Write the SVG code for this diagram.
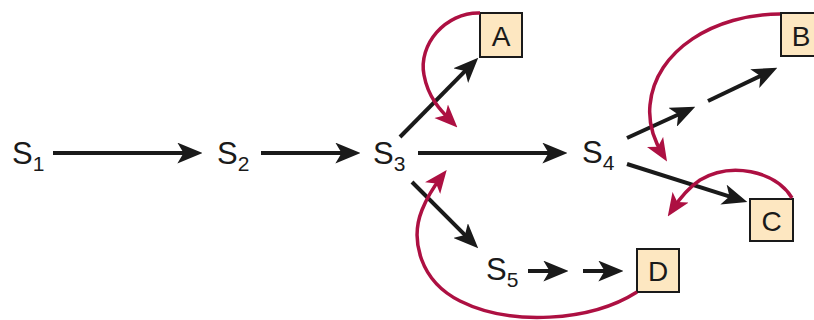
<svg xmlns="http://www.w3.org/2000/svg" width="814" height="320" viewBox="0 0 814 320">
<style>
.lbl{font-family:"Liberation Sans",Arial,sans-serif;font-size:31px;fill:#1a1a1a}
.sub{font-size:21px}
.box{fill:#fde7c1;stroke:#1a1a1a;stroke-width:2}
.bl{font-family:"Liberation Sans",Arial,sans-serif;font-size:28px;fill:#1a1a1a;text-anchor:middle}
.blk{stroke:#1a1a1a;stroke-width:4;fill:none;marker-end:url(#ab)}
.red{stroke:#ad1042;stroke-width:3.5;fill:none;marker-end:url(#ar)}
</style>
<defs>
<marker id="ab" viewBox="0 0 24 20" refX="16" refY="10" markerWidth="25" markerHeight="21" markerUnits="userSpaceOnUse" orient="auto">
<path d="M0,0 L24,10 L0,20 L6,10 z" fill="#1a1a1a"/>
</marker>
<marker id="ar" viewBox="0 0 24 20" refX="16" refY="10" markerWidth="23" markerHeight="20" markerUnits="userSpaceOnUse" orient="auto">
<path d="M0,0 L24,10 L0,20 L6,10 z" fill="#ad1042"/>
</marker>
</defs>
<g id="S1"><text class="lbl" x="12" y="164">S<tspan class="sub" dy="7">1</tspan></text></g>
<g id="S2"><text class="lbl" x="217" y="164">S<tspan class="sub" dy="7">2</tspan></text></g>
<g id="S3"><text class="lbl" x="373" y="164">S<tspan class="sub" dy="7">3</tspan></text></g>
<g id="S4"><text class="lbl" x="582" y="163">S<tspan class="sub" dy="7">4</tspan></text></g>
<g id="S5"><text class="lbl" x="486" y="280">S<tspan class="sub" dy="7">5</tspan></text></g>
<g id="A"><rect class="box" x="480" y="13" width="42" height="44"/><text class="bl" x="501" y="46">A</text></g>
<g id="B"><rect class="box" x="781" y="13" width="42" height="43"/><text class="bl" x="801" y="46">B</text></g>
<g id="C"><rect class="box" x="750" y="199" width="43" height="42"/><text class="bl" x="771.5" y="231">C</text></g>
<g id="D"><rect class="box" x="637" y="249" width="42" height="43"/><text class="bl" x="658" y="281">D</text></g>
<g id="connectors">
<line class="blk" x1="53" y1="153" x2="194" y2="153"/>
<line class="blk" x1="261" y1="153" x2="352" y2="153"/>
<line class="blk" x1="418" y1="153" x2="559" y2="153"/>
<line class="blk" x1="400" y1="137" x2="472.4" y2="63.7"/>
<line class="blk" x1="412" y1="182" x2="472.3" y2="242.3"/>
<line class="blk" x1="627" y1="138" x2="687.7" y2="110.3"/>
<line class="blk" x1="708" y1="101" x2="769.8" y2="71.4"/>
<line class="blk" x1="627" y1="164" x2="739.4" y2="199.6"/>
<line class="blk" x1="528" y1="271" x2="560" y2="271"/>
<line class="blk" x1="583" y1="271" x2="615" y2="271"/>
<path class="red" d="M480,13 C445,12 418,45 424,75 C428,97 440,110 452,122"/>
<path class="red" d="M780,14 C715,14 655,50 650,105 C648,125 655,142 663,155"/>
<path class="red" d="M792,198 C775,170 730,162 700,180 C688,188 680,198 672,210"/>
<path class="red" d="M637,292 C590,322 510,326 460,301 C420,281 410,240 422,210 C428,195 435,185 442,176"/>
</g>
</svg>
